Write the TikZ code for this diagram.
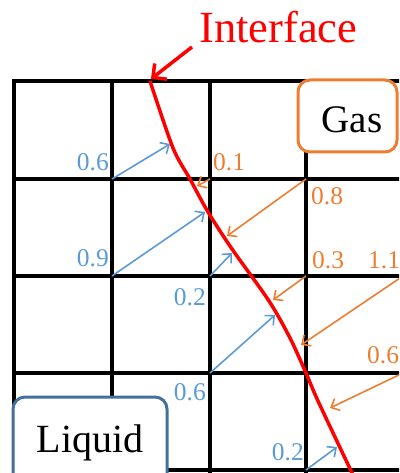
\documentclass[tikz,border=0pt]{standalone}
\usepackage{fontspec}
\setmainfont{Liberation Serif}
\usetikzlibrary{arrows.meta}
\definecolor{ofblue}{HTML}{5B9BD5}
\definecolor{oforange}{HTML}{ED7D31}
\definecolor{ofdark}{HTML}{41719C}
\tikzset{
  gridline/.style={line width=4pt, black},
  bluearr/.style={draw=ofblue, line width=1.6pt, -{Straight Barb[length=7pt,width=13pt]}},
  orarr/.style={draw=oforange, line width=1.6pt, -{Straight Barb[length=7pt,width=13pt]}},
  bluelbl/.style={text=ofblue, font=\fontsize{25.5}{30}\selectfont, inner sep=0pt},
  orlbl/.style={text=oforange, font=\fontsize{25.5}{30}\selectfont, inner sep=0pt},
  phasebox/.style={rounded corners=12pt, line width=3pt, fill=white},
}
\begin{document}
\begin{tikzpicture}[x=1pt,y=-1pt]
\useasboundingbox (0,0) rectangle (399,473);
\clip (0,0) rectangle (399,473);
% grid
\foreach \x in {14,112,210,306,403} \draw[gridline] (\x,81) -- (\x,480);
\foreach \y in {81,179,276,373,470} \draw[gridline] (12,\y) -- (410,\y);
% vertices
\coordinate (v11) at (112,179);
\coordinate (v12) at (112,276);
\coordinate (v21) at (210,179);
\coordinate (v22) at (210,276);
\coordinate (v23) at (210,373);
\coordinate (v31) at (306,179);
\coordinate (v32) at (306,276);
\coordinate (v34) at (306,470);
\coordinate (v42) at (403,276);
\coordinate (v43) at (403,373);
% tips
\coordinate (tb1) at (170,144);
\coordinate (tb2) at (205,212);
\coordinate (tb3) at (232,253);
\coordinate (tb4) at (275,315);
\coordinate (tb5) at (337,447);
\coordinate (to1) at (197,186);
\coordinate (to2) at (227,236);
\coordinate (to3) at (273,300);
\coordinate (to4) at (301,345);
\coordinate (to5) at (330,408);
% phase boxes
\draw[phasebox, draw=oforange] (298,80) rectangle (397,152);
\node[font=\fontsize{39}{46}\selectfont, anchor=base, inner sep=0pt] (gas) at (352,133) {Gas};
\draw[phasebox, draw=ofdark] (13,397) rectangle (167,500);
\node[font=\fontsize{40}{48}\selectfont, anchor=base, inner sep=0pt] (liquid) at (90,452) {Liquid};
% interface
\draw[red, line width=3.5pt] plot[smooth, tension=0.5] coordinates {(150,81) (173,148) (190,179) (208,212) (232,249) (269,301) (290,338) (306,373) (318,401) (353,475)};
\coordinate (itip) at (151,79);
\coordinate (istart) at (192,47);
\draw[red, line width=3.5pt, -{Straight Barb[length=10pt,width=20pt]}] (istart) -- (itip);
\node[text=red, font=\fontsize{44.5}{52}\selectfont, anchor=base west, inner sep=0pt] (iface) at (199,43) {Interface};
% arrows
\draw[bluearr] (v11) -- (tb1);
\draw[bluearr] (v12) -- (tb2);
\draw[bluearr] (v22) -- (tb3);
\draw[bluearr] (v23) -- (tb4);
\draw[bluearr] (v34) -- (tb5);
\draw[orarr] (v21) -- (to1);
\draw[orarr] (v31) -- (to2);
\draw[orarr] (v32) -- (to3);
\draw[orarr] (v42) -- (to4);
\draw[orarr] (v43) -- (to5);
% labels
\node[bluelbl, anchor=base east] (lb1) at (109,171) {0.6};
\node[bluelbl, anchor=base east] (lb2) at (109,266) {0.9};
\node[bluelbl, anchor=base east] (lb3) at (206,305) {0.2};
\node[bluelbl, anchor=base east] (lb4) at (206,400) {0.6};
\node[bluelbl, anchor=base east] (lb5) at (304,460) {0.2};
\node[orlbl, anchor=base west] (lo1) at (213,170) {0.1};
\node[orlbl, anchor=base west] (lo2) at (311,204) {0.8};
\node[orlbl, anchor=base west] (lo3) at (312,268) {0.3};
\node[orlbl, anchor=base west] (lo4) at (368,268) {1.1};
\node[orlbl, anchor=base west] (lo5) at (367,363) {0.6};
\end{tikzpicture}
\end{document}
